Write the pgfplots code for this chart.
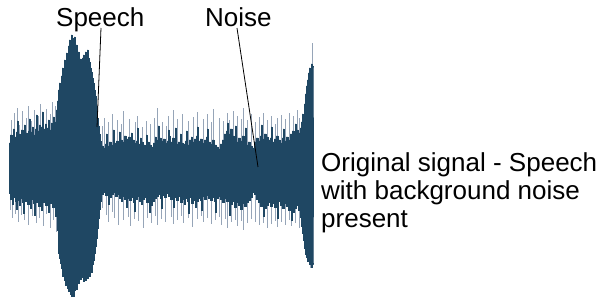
\documentclass[border=0pt]{standalone}
\usepackage{pgfplots}
\pgfplotsset{compat=1.18}
\usepackage{fontspec}
\setmainfont{Liberation Sans}
\definecolor{wave}{RGB}{31,71,99}
\definecolor{spike}{RGB}{150,165,184}
\begin{document}
\begin{tikzpicture}
\begin{axis}[at={(0,0)}, anchor=south west, scale only axis,
  width=606pt, height=296pt, xmin=0, xmax=606, ymin=-128, ymax=168,
  hide axis, clip=false]
% light spikes beyond the dense band
\addplot[ycomb, spike, line width=0.7pt, mark=none] coordinates {
(11,48)(14,55)(17,60)(19,43)(22,57)(26,50)(28,62)(31,47)(34,58)(38,52)(40,64)(43,50)(46,59)(50,54)(52,66)(55,62)
(102,42)(104,50)(108,46)(112,54)(117,48)(121,44)(123,57)(129,49)(135,46)(137,52)(142,41)(146,47)(150,44)(154,50)(157,60)(162,46)(166,42)(168,52)(173,58)(177,49)(182,54)(188,47)(193,51)(197,56)(203,49)(207,54)(211,46)(213,59)(219,50)(223,47)(227,55)(229,48)(233,57)(237,52)(241,49)(243,60)(247,48)(251,54)(255,46)(259,51)(263,55)(267,48)(271,52)(275,44)(277,50)(281,53)(285,49)(289,55)(293,52)(297,58)(299,50)(312,125)
(10,-42)(12,-50)(15,-46)(18,-54)(21,-47)(24,-52)(28,-57)(32,-48)(36,-55)(39,-50)(43,-58)(46,-46)(50,-60)(53,-52)(56,-64)
(102,-40)(106,-47)(108,-54)(112,-44)(114,-50)(118,-57)(123,-52)(128,-49)(130,-58)(134,-51)(138,-53)(143,-60)(147,-50)(151,-55)(155,-48)(157,-57)(161,-51)(165,-54)(171,-49)(173,-56)(177,-52)(181,-48)(183,-55)(188,-50)(192,-59)(197,-51)(201,-48)(203,-54)(207,-50)(211,-56)(215,-52)(219,-49)(221,-57)(225,-51)(227,-60)(231,-54)(235,-52)(237,-58)(241,-53)(243,-62)(247,-55)(251,-51)(255,-54)(259,-57)(263,-55)(267,-60)(271,-56)(275,-53)(277,-59)(281,-54)(285,-57)(289,-52)(291,-58)(295,-55)(299,-60)(302,-66)(310,-100)
};
% upper envelope (area from centre line up)
\addplot[fill=wave, draw=wave, line width=0.4pt, const plot] coordinates {
(9,25)(10,33)(12,29)(13,39)(14,31)(16,36)(17,47)(18,34)(20,30)(21,38)(23,33)(24,43)(25,35)(27,31)(28,37)(29,49)(30,36)(32,41)(33,33)(35,39)(36,53)(37,37)(39,43)(40,35)(41,41)(42,56)(43,39)(45,44)(46,36)(47,40)(48,48)(49,38)(51,45)(52,39)(53,51)(54,41)(55,46)(56,58)(57,67)
(58,78)(59,85)(60,80)(61,92)(62,100)(63,96)(64,108)(65,104)(66,115)(67,110)(68,122)(69,128)(70,125)(71,133)(72,130)(73,127)(74,131)(75,120)(76,123)(77,112)(78,116)(79,106)(80,109)(81,104)(82,110)(83,113)(84,108)(85,116)(86,112)(87,118)(88,110)(89,106)(90,100)(91,96)(92,90)(93,85)(94,78)(95,72)(96,62)(97,50)(98,42)(99,34)(100,27)
(101,22)(103,20)(105,24)(106,34)(107,22)(109,26)(111,23)(113,38)(114,25)(116,27)(118,24)(119,36)(120,28)(122,26)(124,32)(126,29)(128,31)(130,27)(131,35)(132,28)(134,25)(136,27)(137,40)(138,24)(140,30)(141,26)(143,23)(145,22)(146,33)(147,26)(149,23)(151,21)(153,25)(155,31)(156,28)(158,42)(159,30)(161,27)(163,29)(165,25)(167,27)(168,38)(169,32)(170,26)(172,30)(174,28)(175,40)(176,24)(178,26)(180,34)(181,25)(183,24)(185,27)(186,37)(187,23)(189,28)(191,31)(192,26)(194,29)(196,32)(197,41)(198,27)(200,29)(202,25)(204,28)(206,31)(207,39)(208,26)(210,24)(212,28)(214,23)(216,21)(218,19)(220,24)(222,28)(224,34)(226,37)(227,45)(228,34)(230,39)(232,32)(234,29)(235,42)(236,26)(238,30)(240,27)(242,32)(244,28)(245,40)(246,23)(248,26)(250,22)(252,20)(254,26)(256,30)(258,27)(260,32)(261,43)(262,29)(264,34)(266,31)(268,28)(270,30)(271,41)(272,26)(274,29)(276,32)(278,28)(280,25)(282,30)(283,39)(284,27)(286,31)(288,28)(290,34)(292,37)(294,33)(295,44)(296,38)(298,35)(300,40)(301,46)(302,54)(303,52)(304,64)(305,74)(306,82)(307,88)(308,95)(309,100)(310,98)(311,104)(312,102)(313,100)
} \closedcycle;
% lower envelope (area from centre line down)
\addplot[fill=wave, draw=wave, line width=0.4pt, const plot] coordinates {
(9,-25)(10,-31)(12,-36)(13,-29)(15,-33)(16,-41)(17,-32)(19,-37)(20,-30)(22,-34)(23,-45)(24,-33)(26,-29)(27,-36)(29,-32)(30,-40)(31,-31)(33,-35)(34,-47)(35,-34)(37,-30)(38,-38)(40,-33)(41,-42)(42,-34)(44,-31)(45,-37)(47,-33)(48,-44)(49,-35)(51,-32)(52,-39)(54,-36)(55,-48)(56,-43)(57,-62)
(58,-85)(59,-90)(60,-95)(61,-100)(62,-108)(63,-104)(64,-112)(65,-117)(66,-114)(67,-120)(68,-123)(69,-119)(70,-126)(71,-128)(72,-125)(73,-128)(74,-122)(75,-118)(76,-121)(77,-112)(78,-115)(79,-108)(80,-111)(81,-104)(82,-109)(83,-113)(84,-107)(85,-112)(86,-106)(87,-110)(88,-104)(89,-108)(90,-101)(91,-104)(92,-96)(93,-92)(94,-85)(95,-78)(96,-70)(97,-60)(98,-50)(99,-41)(100,-33)
(101,-26)(103,-24)(105,-27)(107,-25)(108,-36)(109,-29)(111,-26)(113,-24)(115,-28)(117,-26)(119,-30)(121,-33)(122,-28)(124,-31)(126,-39)(127,-30)(129,-32)(131,-29)(133,-34)(134,-43)(135,-31)(137,-28)(139,-33)(141,-36)(142,-31)(144,-29)(146,-34)(148,-32)(149,-44)(150,-37)(152,-33)(154,-30)(156,-28)(158,-26)(160,-30)(161,-40)(162,-27)(164,-29)(166,-25)(168,-28)(170,-31)(172,-27)(173,-39)(174,-29)(176,-32)(178,-28)(180,-34)(182,-31)(184,-36)(185,-30)(187,-33)(188,-45)(189,-29)(191,-35)(193,-32)(195,-39)(196,-33)(198,-30)(200,-32)(201,-42)(202,-28)(204,-31)(206,-27)(208,-30)(210,-32)(212,-29)(214,-33)(215,-44)(216,-30)(218,-28)(220,-31)(222,-34)(224,-30)(226,-33)(228,-31)(229,-47)(230,-36)(232,-33)(234,-39)(236,-34)(238,-37)(240,-41)(242,-35)(244,-38)(246,-34)(248,-32)(250,-29)(252,-24)(253,-18)(254,-26)(256,-31)(258,-34)(260,-38)(262,-35)(263,-48)(264,-40)(266,-37)(268,-34)(270,-38)(272,-35)(274,-39)(276,-36)(277,-50)(278,-33)(280,-37)(282,-40)(284,-35)(286,-38)(288,-42)(290,-39)(291,-52)(292,-44)(294,-40)(296,-37)(298,-42)(300,-49)(301,-58)(302,-65)(303,-72)(304,-80)(305,-86)(306,-89)(307,-93)(308,-91)(309,-96)(310,-93)(311,-99)(312,-95)(313,-97)
} \closedcycle;
% annotations
\draw[black, line width=0.8pt] (axis cs:101,140) -- (axis cs:97,41);
\draw[black, line width=0.8pt] (axis cs:237,140) -- (axis cs:258,1);
\node[anchor=base west, inner sep=0pt, font=\fontsize{26}{28.5}\selectfont] at (axis cs:56,141) {Speech};
\node[anchor=base west, inner sep=0pt, font=\fontsize{26}{28.5}\selectfont] at (axis cs:205,141) {Noise};
\node[anchor=base west, inner sep=0pt, font=\fontsize{26}{28.5}\selectfont] at (axis cs:321,-4) {Original signal - Speech};
\node[anchor=base west, inner sep=0pt, font=\fontsize{26}{28.5}\selectfont] at (axis cs:321,-32) {with background noise};
\node[anchor=base west, inner sep=0pt, font=\fontsize{26}{28.5}\selectfont] at (axis cs:321,-60) {present};
\end{axis}
\path (0,0) rectangle (606pt,296pt);
\end{tikzpicture}
\end{document}
